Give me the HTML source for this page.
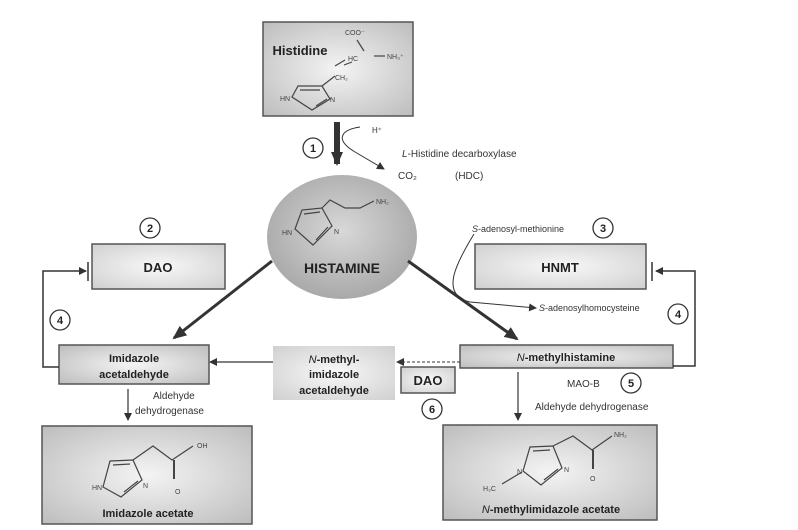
<!DOCTYPE html>
<html><head><meta charset="utf-8"><style>
body{margin:0;background:#fff}
svg{display:block;font-family:"Liberation Sans",sans-serif}
</style></head><body>
<svg width="798" height="530" viewBox="0 0 798 530" xmlns="http://www.w3.org/2000/svg">
<defs>
<radialGradient id="g" cx="50%" cy="50%" r="70%"><stop offset="0" stop-color="#f4f4f4"/><stop offset="1" stop-color="#bdbdbd"/></radialGradient>
<radialGradient id="gl" cx="50%" cy="50%" r="70%"><stop offset="0" stop-color="#f8f8f8"/><stop offset="1" stop-color="#d0d0d0"/></radialGradient>
<radialGradient id="ge" cx="50%" cy="45%" r="55%"><stop offset="0" stop-color="#d8d8d8"/><stop offset="1" stop-color="#a9a9a9"/></radialGradient>
<marker id="a" markerWidth="8" markerHeight="8" refX="7" refY="4" orient="auto" markerUnits="userSpaceOnUse"><path d="M0,0 L8,4 L0,8 Z" fill="#333"/></marker>
<marker id="ab" markerWidth="14" markerHeight="12" refX="12" refY="6" orient="auto" markerUnits="userSpaceOnUse"><path d="M0,0 L14,6 L0,12 Z" fill="#333"/></marker>
</defs>
<g stroke="#555" stroke-width="1.5">
<rect x="263" y="22" width="150" height="94" fill="url(#g)"/>
<rect x="92" y="244" width="133" height="45" fill="url(#gl)"/>
<rect x="475" y="244" width="171" height="45" fill="url(#gl)"/>
<rect x="59" y="345" width="150" height="39" fill="url(#g)"/>
<rect x="460" y="345" width="213" height="23" fill="url(#g)"/>
<rect x="401" y="367" width="54" height="26" fill="url(#gl)"/>
<rect x="42" y="426" width="210" height="98" fill="url(#g)"/>
<rect x="443" y="425" width="214" height="95" fill="url(#g)"/>
</g>
<rect x="273" y="346" width="122" height="54" fill="url(#gl)"/>
<ellipse cx="342" cy="237" rx="75" ry="62" fill="url(#ge)"/>
<g stroke="#333" fill="none">
<line x1="337" y1="122" x2="337" y2="164" stroke-width="6" marker-end="url(#ab)"/>
<path d="M360,127 C340,130 335,140 355,152 L384,169" stroke-width="1" marker-end="url(#a)"/>
<line x1="272" y1="261" x2="174" y2="338" stroke-width="3" marker-end="url(#ab)"/>
<line x1="408" y1="261" x2="517" y2="339" stroke-width="3" marker-end="url(#ab)"/>
<polyline points="59,367 43,367 43,271 86,271" stroke-width="1.5" marker-end="url(#a)"/>
<line x1="88" y1="262" x2="88" y2="281" stroke-width="1.5"/>
<polyline points="673,366 695,366 695,271 656,271" stroke-width="1.5" marker-end="url(#a)"/>
<line x1="652" y1="262" x2="652" y2="281" stroke-width="1.5"/>
<line x1="273" y1="362" x2="210" y2="362" stroke-width="1.2" marker-end="url(#a)"/>
<line x1="460" y1="362" x2="397" y2="362" stroke-width="1" stroke-dasharray="3,2" marker-end="url(#a)"/>
<line x1="128" y1="389" x2="128" y2="420" stroke-width="1.2" marker-end="url(#a)"/>
<line x1="518" y1="372" x2="518" y2="420" stroke-width="1.2" marker-end="url(#a)"/>
<path d="M474,234 C455,265 440,295 470,302 L536,308" stroke-width="1" marker-end="url(#a)"/>
</g>
<g fill="#fff" stroke="#333" stroke-width="1.3">
<circle cx="313" cy="148" r="10"/><circle cx="150" cy="228" r="10"/><circle cx="60" cy="320" r="10"/>
<circle cx="603" cy="228" r="10"/><circle cx="678" cy="314" r="10"/><circle cx="631" cy="383" r="10"/><circle cx="432" cy="409" r="10"/>
</g>
<g font-size="11" font-weight="bold" text-anchor="middle" fill="#222">
<text x="313" y="152">1</text><text x="150" y="232">2</text><text x="60" y="324">4</text>
<text x="603" y="232">3</text><text x="678" y="318">4</text><text x="631" y="387">5</text><text x="432" y="413">6</text>
</g>
<!-- molecules -->
<g stroke="#444" stroke-width="1.2" fill="none">
<!-- histidine -->
<path d="M292,97 L298,86 L322,86 L330,99 L312,110 Z M300,90 L320,90 M316,106 L327,99"/>
<line x1="322" y1="86" x2="335" y2="76"/>
<line x1="344" y1="65" x2="352" y2="62"/><line x1="357" y1="40" x2="364" y2="51"/><line x1="374" y1="56" x2="385" y2="56"/><line x1="335" y1="66" x2="345" y2="60"/>
<!-- histamine -->
<path d="M295,229 L302,210 L322,208 L332,226 L313,245 Z M304,214 L320,212 M316,240 L328,227"/>
<polyline points="322,208 330,200 345,208 360,208 374,201"/>
<!-- imidazole acetate -->
<path d="M103,487 L110,461 L133,460 L142,480 L121,497 Z M113,465 L130,464 M124,492 L138,481"/>
<polyline points="133,460 153,446 172,460 193,446"/><line x1="174" y1="460" x2="174" y2="479" stroke-width="2"/>
<!-- n-methylimidazole acetate -->
<path d="M523,471 L530,447 L553,446 L562,468 L541,485 Z M533,451 L550,450 M544,480 L558,469"/>
<polyline points="553,446 573,436 592,450 612,436"/><line x1="593" y1="450" x2="593" y2="469" stroke-width="2"/><line x1="522" y1="472" x2="502" y2="484"/>
</g>
<g font-size="7" fill="#444">
<text x="345" y="35">COO⁻</text><text x="348" y="61">HC</text><text x="387" y="59">NH₃⁺</text><text x="335" y="80">CH₂</text><text x="280" y="101">HN</text><text x="330" y="102">N</text>
<text x="376" y="204">NH₂</text><text x="282" y="235">HN</text><text x="334" y="234">N</text>
<text x="197" y="448">OH</text><text x="92" y="490">HN</text><text x="143" y="488">N</text><text x="175" y="494">O</text>
<text x="614" y="437">NH₂</text><text x="517" y="474">N</text><text x="564" y="472">N</text><text x="590" y="481">O</text><text x="483" y="491">H₃C</text>
</g>
<g font-weight="bold" fill="#222" text-anchor="middle">
<text x="300" y="55" font-size="13">Histidine</text>
<text x="342" y="273" font-size="14">HISTAMINE</text>
<text x="158" y="272" font-size="13">DAO</text>
<text x="560" y="272" font-size="13">HNMT</text>
<text x="428" y="385" font-size="13">DAO</text>
<text x="134" y="362" font-size="11">Imidazole</text><text x="134" y="378" font-size="11">acetaldehyde</text>
<text x="334" y="363" font-size="11"><tspan font-style="italic" font-weight="normal">N</tspan>-methyl-</text><text x="334" y="378" font-size="11">imidazole</text><text x="334" y="394" font-size="11">acetaldehyde</text>
<text x="566" y="361" font-size="11"><tspan font-style="italic" font-weight="normal">N</tspan>-methylhistamine</text>
<text x="148" y="517" font-size="11">Imidazole acetate</text>
<text x="551" y="513" font-size="11"><tspan font-style="italic" font-weight="normal">N</tspan>-methylimidazole acetate</text>
</g>
<g font-size="10" fill="#333">
<text x="372" y="133" font-size="8">H⁺</text>
<text x="402" y="157"><tspan font-style="italic">L</tspan>-Histidine decarboxylase</text>
<text x="398" y="179">CO₂</text><text x="455" y="179">(HDC)</text>
<text x="472" y="232" font-size="9"><tspan font-style="italic">S</tspan>-adenosyl-methionine</text>
<text x="539" y="311" font-size="9"><tspan font-style="italic">S</tspan>-adenosylhomocysteine</text>
<text x="567" y="387">MAO-B</text>
<text x="535" y="410">Aldehyde dehydrogenase</text>
<text x="153" y="399">Aldehyde</text><text x="135" y="414">dehydrogenase</text>
</g>
</svg>
</body></html>
